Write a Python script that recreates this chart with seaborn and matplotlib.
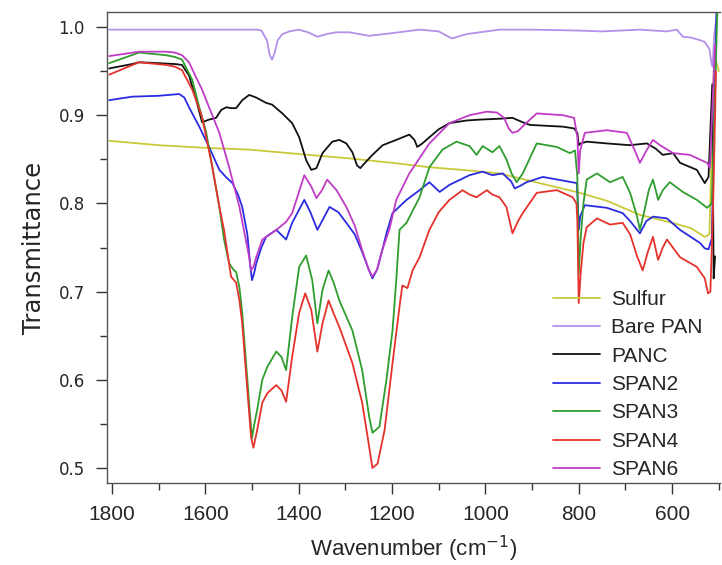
import numpy as np
import pandas as pd
import matplotlib
matplotlib.use("Agg")
import matplotlib.pyplot as plt
from matplotlib.ticker import MultipleLocator
import seaborn as sns

# ---------------- data ----------------
series_names = ["Sulfur", "Bare PAN", "PANC", "SPAN2", "SPAN3", "SPAN4", "SPAN6"]

sulfur_w = [1806, 1700, 1600, 1506, 1400, 1291, 1200, 1120, 1050, 970, 884, 798, 740, 669, 600, 560, 530, 520, 510, 500]
sulfur_t = [0.871, 0.866, 0.863, 0.861, 0.856, 0.851, 0.846, 0.841, 0.838, 0.834, 0.823, 0.812, 0.803, 0.787, 0.778, 0.772, 0.762, 0.765, 0.97, 0.95]

barepan_w = [1806, 1650, 1550, 1490, 1480, 1468, 1462, 1457, 1452, 1445, 1435, 1420, 1400, 1380, 1360, 1340, 1320, 1291, 1250, 1200, 1141, 1100, 1072, 1040, 970, 900, 804, 750, 669, 611, 590, 577, 560, 540, 530, 520, 516, 513, 510, 505]
barepan_t = [0.997, 0.997, 0.997, 0.997, 0.996, 0.985, 0.968, 0.963, 0.970, 0.985, 0.992, 0.995, 0.997, 0.994, 0.989, 0.992, 0.994, 0.994, 0.990, 0.993, 0.997, 0.995, 0.987, 0.992, 0.997, 0.997, 0.996, 0.995, 0.997, 0.995, 0.997, 0.989, 0.988, 0.985, 0.983, 0.975, 0.960, 0.955, 0.990, 1.010]

panc_w = [1806, 1757, 1742, 1700, 1665, 1650, 1635, 1620, 1607, 1592, 1577, 1566, 1555, 1545, 1534, 1521, 1506, 1491, 1470, 1457, 1435, 1414, 1399, 1384, 1373, 1362, 1349, 1328, 1313, 1298, 1285, 1275, 1268, 1258, 1242, 1220, 1191, 1163, 1152, 1146, 1135, 1120, 1100, 1077, 1040, 1012, 970, 942, 920, 905, 870, 834, 810, 803, 800, 796, 783, 740, 691, 654, 635, 620, 598, 583, 565, 547, 530, 522, 514, 511, 508]
panc_t = [0.953, 0.958, 0.960, 0.959, 0.958, 0.957, 0.945, 0.918, 0.892, 0.895, 0.897, 0.906, 0.909, 0.908, 0.908, 0.917, 0.923, 0.920, 0.914, 0.912, 0.902, 0.891, 0.875, 0.849, 0.838, 0.840, 0.857, 0.870, 0.872, 0.868, 0.858, 0.843, 0.840, 0.846, 0.855, 0.866, 0.872, 0.878, 0.872, 0.864, 0.868, 0.875, 0.884, 0.891, 0.894, 0.895, 0.896, 0.897, 0.892, 0.889, 0.888, 0.887, 0.885, 0.880, 0.866, 0.868, 0.870, 0.868, 0.866, 0.868, 0.862, 0.855, 0.857, 0.846, 0.842, 0.838, 0.823, 0.830, 0.935, 0.715, 0.740]

span2_w = [1806, 1757, 1700, 1656, 1645, 1635, 1613, 1592, 1570, 1556, 1542, 1530, 1521, 1510, 1504, 1500, 1495, 1491, 1480, 1470, 1448, 1427, 1414, 1400, 1388, 1375, 1360, 1347, 1334, 1315, 1298, 1280, 1264, 1250, 1242, 1232, 1221, 1212, 1199, 1169, 1141, 1120, 1098, 1077, 1034, 1006, 985, 963, 945, 937, 925, 912, 877, 804, 802, 800, 797, 787, 740, 706, 690, 669, 655, 641, 611, 583, 560, 540, 530, 522, 515, 505]
span2_t = [0.917, 0.921, 0.922, 0.924, 0.920, 0.909, 0.887, 0.864, 0.838, 0.830, 0.823, 0.810, 0.796, 0.765, 0.730, 0.713, 0.722, 0.732, 0.750, 0.762, 0.770, 0.759, 0.778, 0.792, 0.804, 0.790, 0.770, 0.783, 0.796, 0.790, 0.778, 0.765, 0.745, 0.725, 0.715, 0.725, 0.747, 0.766, 0.789, 0.804, 0.815, 0.824, 0.813, 0.821, 0.832, 0.836, 0.832, 0.834, 0.825, 0.817, 0.820, 0.824, 0.830, 0.823, 0.800, 0.770, 0.785, 0.798, 0.795, 0.789, 0.780, 0.766, 0.780, 0.785, 0.783, 0.770, 0.762, 0.755, 0.749, 0.748, 0.760, 1.020]

span3_w = [1806, 1742, 1684, 1665, 1650, 1628, 1613, 1598, 1585, 1570, 1560, 1549, 1540, 1534, 1527, 1521, 1510, 1505, 1500, 1495, 1489, 1478, 1467, 1448, 1437, 1427, 1414, 1399, 1384, 1371, 1360, 1349, 1336, 1325, 1313, 1285, 1264, 1249, 1242, 1235, 1227, 1212, 1199, 1191, 1184, 1169, 1141, 1120, 1092, 1062, 1034, 1019, 1006, 985, 970, 955, 944, 933, 920, 890, 847, 819, 808, 803, 800, 796, 790, 783, 761, 733, 706, 690, 675, 669, 660, 650, 641, 635, 630, 620, 605, 577, 547, 525, 515, 503]
span3_t = [0.959, 0.971, 0.968, 0.966, 0.963, 0.940, 0.909, 0.880, 0.841, 0.796, 0.759, 0.732, 0.725, 0.722, 0.705, 0.676, 0.600, 0.565, 0.534, 0.550, 0.566, 0.600, 0.615, 0.632, 0.626, 0.611, 0.671, 0.728, 0.741, 0.713, 0.664, 0.702, 0.724, 0.710, 0.690, 0.656, 0.611, 0.558, 0.540, 0.543, 0.547, 0.600, 0.656, 0.713, 0.770, 0.778, 0.807, 0.841, 0.861, 0.870, 0.865, 0.855, 0.865, 0.858, 0.865, 0.850, 0.834, 0.824, 0.834, 0.868, 0.864, 0.857, 0.860, 0.830, 0.720, 0.760, 0.800, 0.827, 0.834, 0.824, 0.830, 0.812, 0.785, 0.770, 0.790, 0.815, 0.827, 0.815, 0.804, 0.815, 0.824, 0.813, 0.804, 0.795, 0.800, 1.020]

span4_w = [1806, 1742, 1684, 1665, 1650, 1628, 1607, 1585, 1570, 1560, 1545, 1534, 1527, 1521, 1510, 1502, 1497, 1489, 1478, 1467, 1448, 1437, 1427, 1414, 1399, 1386, 1373, 1360, 1349, 1336, 1325, 1313, 1285, 1264, 1249, 1242, 1231, 1216, 1199, 1184, 1178, 1167, 1156, 1141, 1120, 1100, 1077, 1049, 1034, 1019, 997, 985, 970, 955, 942, 930, 920, 890, 847, 813, 805, 803, 800, 796, 790, 783, 761, 733, 706, 690, 675, 663, 652, 641, 630, 620, 611, 583, 547, 530, 523, 518, 512, 506]
span4_t = [0.946, 0.960, 0.957, 0.955, 0.951, 0.929, 0.898, 0.841, 0.796, 0.770, 0.717, 0.710, 0.690, 0.664, 0.588, 0.535, 0.523, 0.543, 0.574, 0.585, 0.594, 0.588, 0.575, 0.626, 0.676, 0.698, 0.679, 0.632, 0.664, 0.690, 0.675, 0.660, 0.619, 0.574, 0.524, 0.500, 0.505, 0.543, 0.619, 0.683, 0.707, 0.704, 0.724, 0.739, 0.770, 0.790, 0.804, 0.815, 0.810, 0.807, 0.815, 0.810, 0.807, 0.796, 0.766, 0.780, 0.789, 0.812, 0.815, 0.807, 0.800, 0.780, 0.687, 0.720, 0.755, 0.773, 0.783, 0.776, 0.778, 0.765, 0.740, 0.724, 0.745, 0.762, 0.736, 0.750, 0.759, 0.739, 0.728, 0.715, 0.698, 0.700, 0.800, 0.950]

span6_w = [1806, 1742, 1684, 1665, 1650, 1635, 1620, 1607, 1592, 1570, 1549, 1527, 1512, 1506, 1502, 1497, 1491, 1478, 1448, 1427, 1414, 1400, 1388, 1373, 1362, 1350, 1339, 1319, 1298, 1280, 1264, 1250, 1242, 1232, 1221, 1206, 1191, 1163, 1120, 1077, 1034, 997, 975, 960, 950, 942, 930, 915, 890, 834, 810, 803, 800, 797, 787, 740, 697, 680, 669, 655, 641, 626, 598, 562, 525, 519, 512, 508]
span6_t = [0.967, 0.972, 0.972, 0.971, 0.968, 0.960, 0.943, 0.929, 0.909, 0.880, 0.841, 0.796, 0.755, 0.739, 0.724, 0.728, 0.739, 0.759, 0.770, 0.779, 0.789, 0.812, 0.832, 0.819, 0.806, 0.815, 0.827, 0.815, 0.796, 0.775, 0.747, 0.725, 0.717, 0.725, 0.747, 0.770, 0.804, 0.834, 0.868, 0.891, 0.900, 0.904, 0.903, 0.897, 0.885, 0.880, 0.882, 0.890, 0.902, 0.900, 0.897, 0.875, 0.834, 0.860, 0.880, 0.883, 0.880, 0.860, 0.846, 0.860, 0.872, 0.866, 0.857, 0.855, 0.846, 0.840, 0.930, 0.980]

series_colors = ["#c9c93a", "#b391ea", "#111111", "#2b2be0", "#2f9e2f", "#e5322c", "#c03cc6"]

x_ticks = [1800, 1600, 1400, 1200, 1000, 800, 600]
y_ticks = [0.5, 0.6, 0.7, 0.8, 0.9, 1.0]

# ---------------- build a long table ----------------
pairs = [(sulfur_w, sulfur_t), (barepan_w, barepan_t), (panc_w, panc_t),
         (span2_w, span2_t), (span3_w, span3_t), (span4_w, span4_t), (span6_w, span6_t)]
frames = []
for name, (w, t) in zip(series_names, pairs):
    frames.append(pd.DataFrame({"Wavenumber": w, "Transmittance": t, "Sample": name}))
df = pd.concat(frames, ignore_index=True)

# ---------------- plot ----------------
sns.set_theme(style="ticks")
plt.rcParams["font.family"] = ["Liberation Sans", "DejaVu Sans"]

fig = plt.figure(figsize=(7.22, 5.65), dpi=100)
W, H = 722, 565
ax = fig.add_axes([107 / W, 1 - 483 / H, (720 - 107) / W, (483 - 12) / H])

sns.lineplot(data=df, x="Wavenumber", y="Transmittance", hue="Sample",
             hue_order=series_names, palette=series_colors, sort=False,
             estimator=None, linewidth=1.3, ax=ax)
for ln in ax.get_lines():
    ln.set_solid_joinstyle("round")

ax.set_xlim(1810.7, 497.4)
ax.set_ylim(0.483, 1.017)
ax.set_xticks(x_ticks)
ax.set_yticks(y_ticks)
ax.set_yticklabels([f"{v:.1f}" for v in y_ticks], fontfamily="DejaVu Sans", fontsize=12)
ax.set_xticklabels([str(v) for v in x_ticks], fontsize=15)
ax.xaxis.set_minor_locator(MultipleLocator(100))
ax.yaxis.set_minor_locator(MultipleLocator(0.05))
ax.tick_params(axis="both", which="major", direction="out", length=8, width=1, color="#333333")
ax.tick_params(axis="both", which="minor", direction="out", length=5, width=1, color="#333333")
ax.tick_params(axis="x", which="major", pad=8)
ax.tick_params(axis="y", which="major", pad=8)

ax.set_xlabel("Wavenumber (cm$^{-1}$)", fontsize=16, labelpad=7)
ax.set_ylabel("Transmittance", fontsize=17.5, fontfamily="DejaVu Sans", labelpad=9)

for s in ["left", "bottom", "top"]:
    ax.spines[s].set_color("#555555")
    ax.spines[s].set_linewidth(1.0)
ax.spines["right"].set_visible(False)

leg = ax.legend(loc="upper left", bbox_to_anchor=((553 - 107) / 613, (483 - 290) / 471),
                frameon=False, fontsize=15, handlelength=2.25, handletextpad=0.55,
                labelspacing=0.45, borderpad=0, borderaxespad=0)
for line in leg.get_lines():
    line.set_linewidth(1.3)

fig.savefig("out.png", dpi=100)
